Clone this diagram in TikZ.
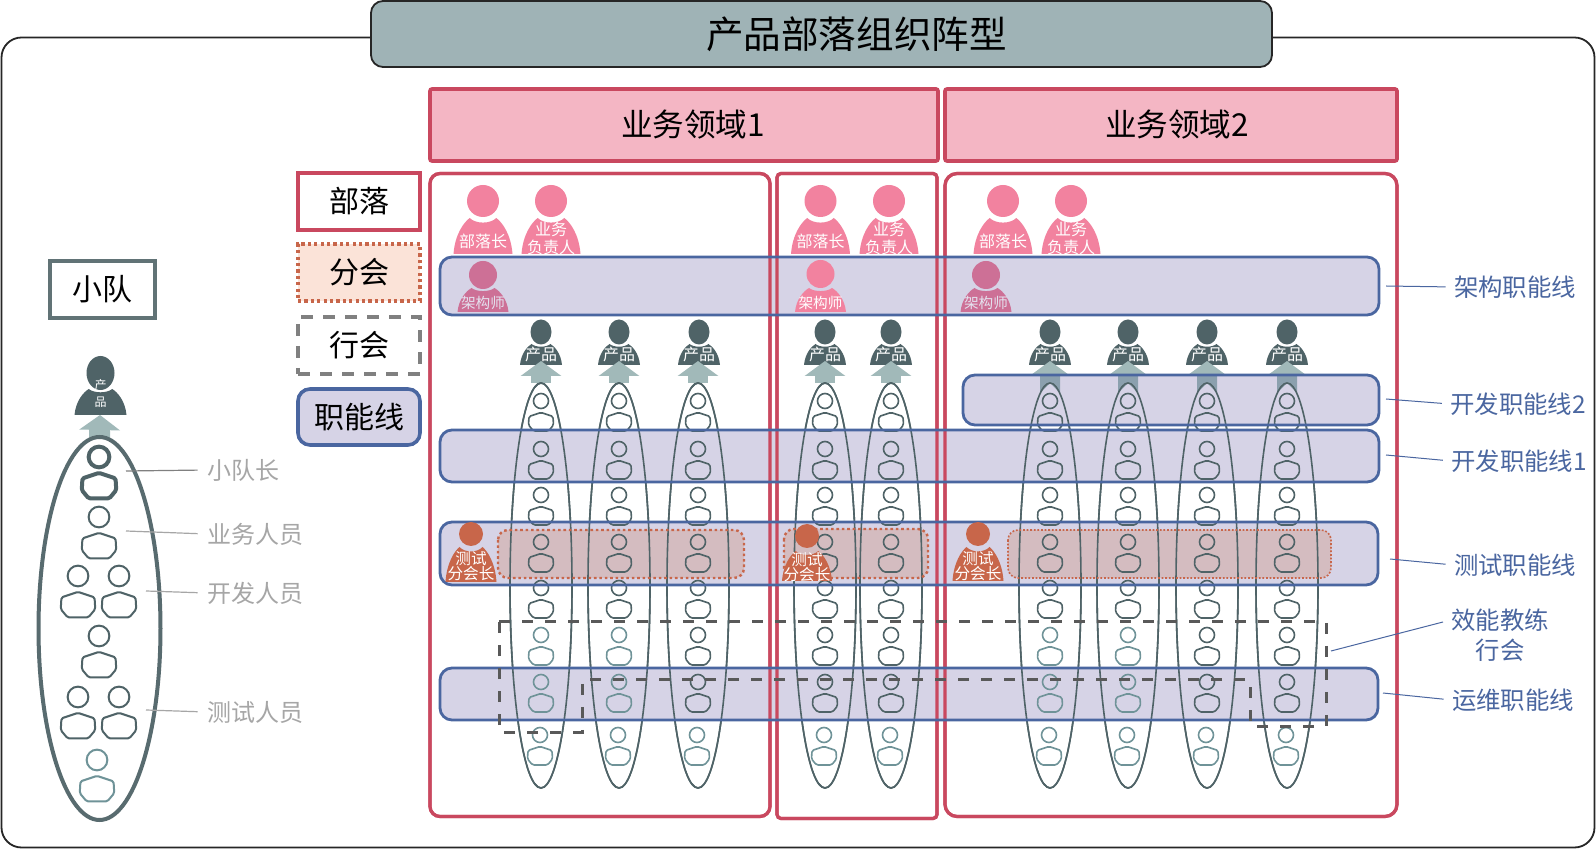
\documentclass[tikz,border=0pt]{standalone}
\usepackage{fontspec}
\setmainfont{Noto Sans CJK SC}
\usetikzlibrary{shapes.geometric,arrows.meta}
\definecolor{crimson}{HTML}{C9485F}
\definecolor{pinkfill}{HTML}{F4B6C4}
\definecolor{pinkman}{HTML}{F2829F}
\definecolor{pinktint}{HTML}{CD7096}
\definecolor{whitetint}{HTML}{E4E2EF}
\definecolor{titlefill}{HTML}{9FB3B6}
\definecolor{slate}{HTML}{4F6367}
\definecolor{tealmid}{HTML}{6F9398}
\definecolor{arrowc}{HTML}{A1B9B9}
\definecolor{arrowtint}{HTML}{8BA0AE}
\definecolor{bandline}{HTML}{4A66A0}
\definecolor{bandfill}{HTML}{D6D3E6}
\definecolor{chapterfill}{HTML}{FBE3D8}
\definecolor{chaptertint}{HTML}{D4BCC0}
\definecolor{rust}{HTML}{C8664A}
\definecolor{dashgray}{HTML}{595959}
\definecolor{labelgray}{HTML}{A6A6A6}
\pgfdeclarelayer{back}
\pgfsetlayers{back,main}
\newcommand{\fs}[1]{\fontsize{#1}{#1}\selectfont}
% solid bust: x, head y, head rx, head ry, body top, body bottom, half width, colour
\newcommand{\solidbust}[8]{%
  \fill[#8] (#1,#2) ellipse [x radius=#3, y radius=#4];
  \begin{scope}[shift={(#1,#5)},xscale=#7,yscale=#6-#5]
    \fill[#8] (-1,1) .. controls (-0.95,0.45) and (-0.65,0.12) .. (-0.45,0)
      .. controls (-0.25,0.17) and (0.25,0.17) .. (0.45,0)
      .. controls (0.65,0.12) and (0.95,0.45) .. (1,1) -- cycle;
  \end{scope}}
% outline person: x, head y, scale, colour, line width
\newcommand{\hollowbust}[5]{%
  \begin{scope}[shift={(#1,#2)},scale=#3]
    \draw[#4,line width=#5] (0,0) circle [radius=7.5];
    \draw[#4,line width=#5,rounded corners=.8pt,line join=round]
      (0,11.5) -- (12,15.5) -- (12.5,24) -- (7.5,30) -- (-7.5,30) -- (-12.5,24) -- (-12,15.5) -- cycle;
  \end{scope}}
\tikzset{
  pxunit/.style={x=0.5pt,y=-0.5pt},
  sized/.style n args={2}{minimum width=#1*0.5pt,minimum height=#2*0.5pt,inner sep=0pt,outer sep=0pt},
  tribebox/.style={draw=crimson,line width=1.6pt,fill=white},
  tribeline/.style={draw=crimson,line width=1.6pt},
  domainbox/.style={draw=crimson,line width=1.8pt,fill=pinkfill,rounded corners=1pt,font=\fs{15.8}},
  legendtext/.style={font=\fs{15},text=black},
  bandbox/.style={fill=bandfill,rounded corners=6pt},
  bandedge/.style={draw=bandline,line width=1.4pt,rounded corners=6pt},
  chapterbox/.style={fill=chaptertint,rounded corners=5pt},
  chapteredge/.style={draw=rust,line width=1.2pt,dash pattern=on 1.3pt off 1.4pt,rounded corners=5pt},
  squadring/.style={ellipse,draw=slate,line width=.8pt,fill=white,inner sep=0pt,outer sep=0pt},
  blockup/.style={-{Triangle[length=7.5pt,width=20pt]},arrowc,line width=10pt},
  grouplabel/.style={font=\fs{12.2},text=bandline,inner sep=0pt},
  greylabel/.style={font=\fs{12},text=labelgray,inner sep=0pt},
  leaderblue/.style={bandline,line width=.5pt,shorten >=4pt},
  leadergrey/.style={gray,line width=.6pt,shorten >=4.5pt},
  onman/.style={text=white,inner sep=0pt,align=center},
}
\begin{document}
\begin{tikzpicture}[pxunit]
\useasboundingbox (0,0) rectangle (1596,849);
\begin{pgfonlayer}{back}
  % outer frame and title
  \draw[line width=.9pt,draw=black!85,fill=white,rounded corners=10pt] (1.5,37.5) rectangle (1594.5,847.5);
  \node[sized={901}{66},draw=black!85,line width=.9pt,fill=titlefill,rounded corners=6pt,font=\fs{18.8}] (title) at (821.5,34) {\hspace*{35pt}产品部落组织阵型};
  % domains
  \node[domainbox,sized={508}{72}] (domA) at (684,125) {\hspace*{9pt}业务领域1};
  \node[domainbox,sized={452}{72}] (domB) at (1171,125) {\hspace*{6pt}业务领域2};
  % tribes
  \node[tribebox,sized={340}{643},rounded corners=5pt] (tribeA) at (600,495) {};
  \node[tribebox,sized={160}{645},rounded corners=2pt] (tribeB) at (857,496) {};
  \node[tribebox,sized={452}{643},rounded corners=6pt] (tribeC) at (1171,495) {};
  % legend
  \node[sized={122}{57},draw=crimson,line width=1.8pt,fill=white,legendtext] (legA) at (359,201.5) {部落};
  \node[sized={122}{57},draw=rust,line width=1.8pt,dash pattern=on 1.6pt off 1.6pt,fill=chapterfill,legendtext] (legB) at (359,272.5) {分会};
  \node[sized={122}{57},draw=gray,line width=1.8pt,dash pattern=on 6pt off 5pt,fill=white,legendtext] (legC) at (359,345.5) {行会};
  \node[sized={122}{56},draw=bandline,line width=1.8pt,fill=bandfill,rounded corners=6pt,legendtext] (legD) at (359,417) {职能线};
  \node[sized={105}{57},draw=slate!90!white,line width=1.7pt,fill=white,legendtext] (legE) at (102.5,289.5) {小队};
  % pink managers
  \foreach \n/\xa/\xb in {a/483/551,b/820.5/889,c/1003/1071}{
    \solidbust{\xa}{201}{16}{16}{218}{254}{29.5}{pinkman}
    \solidbust{\xb}{201}{16}{16}{218}{254}{29.5}{pinkman}
    \node[onman,font=\fs{8}] (chief\n) at (\xa,241) {部落长};
    \node[onman,font=\fs{8}] (biz\n) at (\xb,238.5) {业务\\[.6pt]负责人};
  }
  % product owners
  \foreach \i/\x in {1/541,2/619,3/699,4/825,5/891,6/1050,7/1128,8/1207,9/1287}{
    \solidbust{\x}{332}{10.5}{12.5}{344}{365}{21}{slate}
    \node[onman,font=\fs{8}] (po\i) at (\x,354) {产品};
  }
  \solidbust{100.5}{373}{14}{17}{389}{415}{26}{slate}
  \node[onman,font=\fs{6}] (poBigA) at (100.5,385) {产};
  \node[onman,font=\fs{6}] (poBigB) at (100.5,402) {品};
\end{pgfonlayer}

% squads
\foreach \i/\x in {1/541,2/619,3/698,4/825,5/891,6/1050,7/1128,8/1207,9/1287}{
  \node[squadring,sized={62}{405}] (sq\i) at (\x,585.5) {};
  \coordinate (tip\i) at (\x,361);
  \begin{pgfonlayer}{back}
    \draw[blockup] (sq\i.north) -- (tip\i);
  \end{pgfonlayer}
}
% left squad
\node[squadring,sized={122}{383},line width=2pt,draw=slate!95!white] (sqBig) at (99.5,628.5) {};
\coordinate (tipBig) at (100,415);
\begin{pgfonlayer}{back}
  \draw[blockup,line width=10.5pt] (sqBig.north) -- (tipBig);
\end{pgfonlayer}
\hollowbust{99}{457}{1.38}{slate}{2pt}
\hollowbust{99}{517}{1.38}{slate}{1pt}
\hollowbust{78}{576}{1.38}{slate}{1pt}
\hollowbust{119}{576}{1.38}{slate}{1pt}
\hollowbust{99}{636}{1.38}{slate}{1pt}
\hollowbust{78}{697}{1.38}{slate}{1pt}
\hollowbust{119}{697}{1.38}{slate}{1pt}
\hollowbust{97}{760}{1.38}{tealmid}{1pt}

% function-line bands: fills
\node[bandbox,sized={939}{58}] (bArch) at (909.5,286) {};
\node[bandbox,sized={416}{50}] (bDev2) at (1171,400) {};
\node[bandbox,sized={939}{52}] (bDev1) at (909.5,456) {};
\node[bandbox,sized={938}{63}] (bTest) at (909,553.5) {};
\node[bandbox,sized={938}{52}] (bOps) at (909,694) {};
% chapter boxes: fills
\node[chapterbox,sized={246}{48}] (chA) at (621,554) {};
\node[chapterbox,sized={144}{49}] (chB) at (856,553.5) {};
\node[chapterbox,sized={323}{48}] (chC) at (1169.5,554) {};
% what shows through the bands
\draw[tribeline,rounded corners=5pt] (tribeA.north west) rectangle (tribeA.south east);
\draw[tribeline,rounded corners=2pt] (tribeB.north west) rectangle (tribeB.south east);
\draw[tribeline,rounded corners=6pt] (tribeC.north west) rectangle (tribeC.south east);
\foreach \x in {1050,1128,1207,1287}{
  \fill[arrowtint] (\x-10,376) -- (\x+10,376) -- (\x+10,393) -- (\x+5,388) -- (\x,383) -- (\x-5,388) -- (\x-10,393) -- cycle;
}
\foreach \x/\c in {541/tealmid,619/tealmid,698/slate,825/slate,891/slate,1050/tealmid,1128/tealmid,1207/slate,1287/slate}{
  \draw[slate,line width=.8pt] (\x,585.5) ellipse [x radius=31, y radius=202.5];
  \foreach \y in {401,449,495,542,588}{\hollowbust{\x}{\y}{1}{slate}{.8pt}}
  \hollowbust{\x}{635}{1}{\c}{.8pt}
  \hollowbust{\x}{682}{1}{\c}{.8pt}
  \hollowbust{\x-1}{735}{1}{tealmid}{.8pt}
}
\solidbust{483}{275}{14}{14}{288}{312}{25.5}{pinktint}
\solidbust{986}{275}{14}{14}{288}{312}{25.5}{pinktint}
\node[onman,text=whitetint,font=\fs{7.3}] (archA) at (483,303) {架构师};
\node[onman,text=whitetint,font=\fs{7.3}] (archC) at (986,303) {架构师};
% band and chapter outlines
\foreach \b in {bArch,bDev2,bDev1,bTest,bOps}{
  \draw[bandedge] (\b.north west) rectangle (\b.south east);
}
\draw[chapteredge] (chA.north west) rectangle (chA.south east);
\draw[chapteredge] (chB.north west) rectangle (chB.south east);
\draw[chapteredge,line width=.8pt,dash pattern=on .9pt off .9pt] (chC.north west) rectangle (chC.south east);

% guild outline
\draw[dashgray,line width=1.5pt,dash pattern=on 5.5pt off 6pt]
  (499,622) -- (1326,622) -- (1326,726) -- (1250,726) -- (1250,680) -- (582,680) -- (582,732) -- (499,732) -- cycle;

% persons above the bands
\solidbust{820.5}{274}{14}{14}{288}{312}{25.5}{pinkman}
\node[onman,font=\fs{7.3}] (archB) at (820.5,303) {架构师};
\solidbust{471}{534}{12}{12}{547}{582}{25.5}{rust}
\solidbust{807}{536}{12}{12}{551}{581}{25}{rust}
\solidbust{978}{534}{12}{12}{547}{581}{25.5}{rust}
\node[onman,font=\fs{7.8}] (testA) at (471,566.5) {测试\\[-.2pt]分会长};
\node[onman,font=\fs{7.8}] (testB) at (807,567.5) {测试\\[-.2pt]分会长};
\node[onman,font=\fs{7.8}] (testC) at (978,566.5) {测试\\[-.2pt]分会长};

% right labels
\node[grouplabel] (lArch) at (1515,287) {架构职能线};
\node[grouplabel] (lDev2) at (1518,404) {开发职能线2};
\node[grouplabel] (lDev1) at (1519,461) {开发职能线1};
\node[grouplabel] (lTest) at (1515,565) {测试职能线};
\node[grouplabel,align=center] (lGuild) at (1500,635) {效能教练\\[3pt]行会};
\node[grouplabel] (lOps) at (1513,700) {运维职能线};
\coordinate (cArch) at (1386,286);
\coordinate (cDev2) at (1386,399);
\coordinate (cDev1) at (1386,455);
\coordinate (cTest) at (1390,559);
\coordinate (cGuild) at (1331,651);
\coordinate (cGuildEnd) at (1443,622);
\coordinate (cOps) at (1383,693);
\draw[leaderblue] (cArch) -- (lArch.west);
\draw[leaderblue] (cDev2) -- (lDev2.west);
\draw[leaderblue] (cDev1) -- (lDev1.west);
\draw[leaderblue] (cTest) -- (lTest.west);
\draw[bandline,line width=.5pt] (cGuild) -- (cGuildEnd);
\draw[leaderblue] (cOps) -- (lOps.west);

% left labels
\node[greylabel] (gLead) at (243,470) {小队长};
\node[greylabel] (gBiz) at (255,534) {业务人员};
\node[greylabel] (gDev) at (255,593) {开发人员};
\node[greylabel] (gTest) at (255,712) {测试人员};
\coordinate (dLead) at (126,471);
\coordinate (dBiz) at (126,531);
\coordinate (dDev) at (146,591);
\coordinate (dTest) at (146,710);
\draw[leadergrey] (dLead) -- (gLead.west);
\draw[leadergrey,gray!70] (dBiz) -- (gBiz.west);
\draw[leadergrey,gray!70] (dDev) -- (gDev.west);
\draw[leadergrey,gray!70] (dTest) -- (gTest.west);
\end{tikzpicture}
\end{document}
